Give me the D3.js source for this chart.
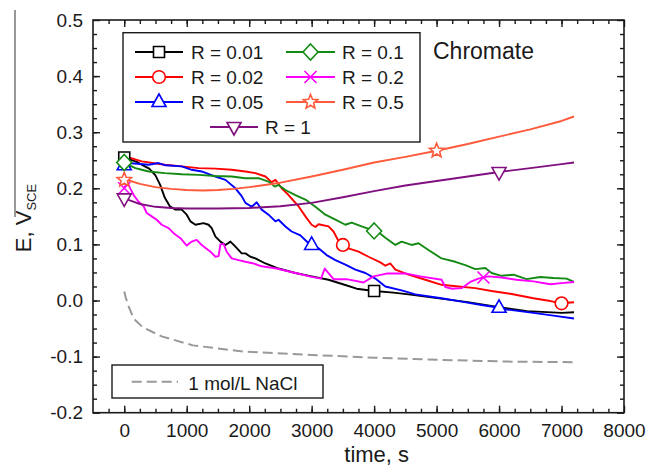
<!DOCTYPE html>
<html>
<head>
<meta charset="utf-8">
<script src="https://cdn.jsdelivr.net/npm/d3@7"></script>
<style>
  html, body { margin: 0; padding: 0; background: #fff; }
  svg text { font-family: Arial, "Liberation Sans", sans-serif; fill: #1a1a1a; }
</style>
</head>
<body>
<svg id="chart" width="651" height="467"></svg>
<script>
// ---- data: [time s, E V] ----
const r001 = [[0,0.255],[100,0.251],[200,0.247],[300,0.241],[400,0.235],[500,0.223],[575,0.206],[650,0.183],[730,0.168],[820,0.162],[920,0.162],[1000,0.153],[1060,0.141],[1140,0.135],[1270,0.138],[1350,0.135],[1400,0.129],[1460,0.114],[1540,0.105],[1620,0.099],[1700,0.105],[1780,0.096],[1880,0.084],[1940,0.084],[2020,0.078],[2100,0.075],[2260,0.066],[2470,0.057],[2740,0.049],[3000,0.043],[3270,0.037],[3500,0.029],[3720,0.021],[4000,0.017],[4310,0.014],[4550,0.011],[5100,0.003],[5500,-0.003],[6000,-0.012],[6450,-0.019],[7000,-0.022],[7200,-0.021]];
const r002 = [[0,0.257],[100,0.254],[280,0.248],[650,0.242],[920,0.239],[1190,0.236],[1460,0.235],[1720,0.233],[1940,0.230],[2100,0.227],[2260,0.221],[2360,0.211],[2420,0.215],[2520,0.200],[2630,0.188],[2790,0.168],[2900,0.150],[3000,0.135],[3060,0.131],[3110,0.136],[3270,0.132],[3350,0.123],[3430,0.106],[3500,0.099],[3590,0.093],[3750,0.087],[3910,0.078],[4100,0.068],[4180,0.062],[4260,0.066],[4340,0.055],[4550,0.046],[4820,0.037],[5080,0.028],[5350,0.025],[5620,0.022],[5880,0.017],[6180,0.012],[6550,0.004],[6820,-0.001],[7000,-0.005],[7200,-0.003]];
const r005 = [[0,0.241],[70,0.245],[390,0.242],[550,0.245],[660,0.241],[920,0.239],[1080,0.233],[1240,0.230],[1460,0.221],[1620,0.215],[1780,0.200],[1880,0.186],[1940,0.174],[2040,0.167],[2120,0.175],[2200,0.162],[2310,0.153],[2420,0.141],[2470,0.144],[2580,0.132],[2680,0.123],[2820,0.116],[2950,0.102],[3000,0.099],[3110,0.093],[3240,0.081],[3380,0.072],[3540,0.064],[3700,0.055],[3860,0.049],[4020,0.039],[4180,0.025],[4440,0.018],[4660,0.011],[5080,0.004],[5400,-0.002],[5720,-0.008],[6000,-0.013],[6120,-0.016],[6550,-0.022],[6870,-0.027],[7200,-0.032]];
const r01 = [[0,0.246],[100,0.240],[180,0.236],[280,0.233],[390,0.230],[650,0.227],[920,0.225],[1190,0.224],[1460,0.222],[1720,0.221],[1940,0.218],[2150,0.218],[2310,0.212],[2410,0.203],[2470,0.206],[2580,0.197],[2740,0.188],[2900,0.180],[3060,0.167],[3220,0.153],[3380,0.144],[3540,0.135],[3640,0.139],[3800,0.132],[3960,0.126],[4100,0.119],[4180,0.112],[4340,0.099],[4440,0.105],[4600,0.099],[4710,0.102],[4870,0.090],[5080,0.075],[5300,0.069],[5460,0.063],[5620,0.056],[5780,0.058],[5880,0.049],[6040,0.044],[6230,0.046],[6440,0.038],[6660,0.042],[6870,0.040],[7080,0.039],[7200,0.033]];
const r02 = [[0,0.200],[50,0.211],[100,0.199],[150,0.188],[230,0.176],[310,0.168],[360,0.156],[440,0.150],[520,0.144],[600,0.135],[710,0.129],[790,0.120],[900,0.111],[1000,0.098],[1080,0.105],[1160,0.108],[1240,0.099],[1380,0.087],[1460,0.078],[1510,0.079],[1540,0.100],[1590,0.101],[1640,0.087],[1720,0.075],[1830,0.072],[1940,0.069],[2070,0.066],[2200,0.061],[2440,0.057],[2740,0.049],[3000,0.042],[3150,0.039],[3210,0.057],[3260,0.050],[3350,0.038],[3560,0.038],[3830,0.032],[3990,0.043],[4200,0.048],[4520,0.048],[4740,0.043],[5080,0.037],[5140,0.024],[5250,0.021],[5400,0.022],[5540,0.033],[5670,0.039],[5830,0.043],[6040,0.041],[6280,0.037],[6550,0.034],[6820,0.029],[7000,0.031],[7200,0.033]];
const r05 = [[0,0.215],[100,0.213],[250,0.208],[500,0.202],[750,0.199],[1000,0.197],[1250,0.196],[1500,0.197],[1750,0.199],[2000,0.202],[2500,0.210],[3000,0.221],[3500,0.233],[4000,0.246],[4500,0.256],[5000,0.267],[5500,0.279],[6000,0.292],[6500,0.305],[7000,0.320],[7200,0.328]];
const r1 = [[0,0.182],[100,0.178],[250,0.172],[500,0.167],[750,0.165],[1000,0.164],[1500,0.164],[2000,0.165],[2500,0.168],[3000,0.174],[3500,0.184],[4000,0.195],[4500,0.205],[5000,0.213],[5500,0.221],[6000,0.229],[6500,0.236],[7000,0.243],[7200,0.246]];
const nacl = [[0,0.016],[25,0.005],[75,-0.012],[150,-0.032],[300,-0.048],[600,-0.064],[1100,-0.080],[1900,-0.091],[3000,-0.097],[4000,-0.102],[5100,-0.106],[6200,-0.109],[7200,-0.110]];

const seriesLabels = ['R = 0.01', 'R = 0.02', 'R = 0.05', 'R = 0.1', 'R = 0.2', 'R = 0.5', 'R = 1'];
const seriesData = [r001, r002, r005, r01, r02, r05, r1];
const markerTimes = [[0, 4000], [3500, 7000], [0, 3000, 6000], [0, 4000], [0, 5750], [0, 5000], [0, 6000]];
const xTicks = [0, 1000, 2000, 3000, 4000, 5000, 6000, 7000, 8000];
const yTicks = [-0.2, -0.1, 0.0, 0.1, 0.2, 0.3, 0.4, 0.5];

// styles
const colors = ['#000000', '#ff0000', '#0000ff', '#138a13', '#ff00ff', '#ff5a3c', '#80107f'];
const shapes = ['square', 'circle', 'triangle', 'diamond', 'cross', 'star', 'invtri'];

const svg = d3.select('#chart');
const x = d3.scaleLinear().domain([-500, 8000]).range([93, 624]);
const y = d3.scaleLinear().domain([-0.2, 0.5]).range([412.7, 20]);

// stray crop line at the left edge of the original figure
svg.append('line').attr('x1', 15).attr('x2', 15).attr('y1', 10).attr('y2', 217)
  .attr('stroke', '#333').attr('stroke-width', 1);

// marker path
function markerPath(shape) {
  const p = d3.path();
  if (shape === 'square') { p.rect(-5.5, -5.5, 11, 11); }
  else if (shape === 'circle') { p.arc(0, 0, 6.3, 0, 2 * Math.PI); p.closePath(); }
  else if (shape === 'triangle') { p.moveTo(0, -8); p.lineTo(7, 4.5); p.lineTo(-7, 4.5); p.closePath(); }
  else if (shape === 'invtri') { p.moveTo(0, 8); p.lineTo(7, -4.5); p.lineTo(-7, -4.5); p.closePath(); }
  else if (shape === 'diamond') { p.moveTo(0, -8); p.lineTo(7.5, 0); p.lineTo(0, 8); p.lineTo(-7.5, 0); p.closePath(); }
  else if (shape === 'cross') { p.moveTo(-6, -6); p.lineTo(6, 6); p.moveTo(-6, 6); p.lineTo(6, -6); }
  else if (shape === 'star') {
    for (let i = 0; i < 10; i++) {
      const r = i % 2 ? 3.3 : 7.5, a = -Math.PI / 2 + i * Math.PI / 5;
      i ? p.lineTo(r * Math.cos(a), r * Math.sin(a)) : p.moveTo(r * Math.cos(a), r * Math.sin(a));
    }
    p.closePath();
  }
  return p.toString();
}

function drawMarker(g, shape, cx, cy, color) {
  g.append('path')
    .attr('d', markerPath(shape))
    .attr('transform', `translate(${cx},${cy})`)
    .attr('fill', shape === 'cross' ? 'none' : '#fff')
    .attr('stroke', color)
    .attr('stroke-width', 1.6);
}

// value of a series at time t (linear between read points)
function valueAt(series, t) {
  const i = d3.bisector(d => d[0]).left(series, t);
  if (i <= 0) return series[0][1];
  if (i >= series.length) return series[series.length - 1][1];
  const [t0, v0] = series[i - 1], [t1, v1] = series[i];
  return v0 + (v1 - v0) * (t - t0) / (t1 - t0);
}

// ---- axes (ticks inward on all four sides) ----
const fs = '19px';
function styleAxis(g) {
  g.select('.domain').remove();
  g.selectAll('line').attr('stroke', '#1a1a1a').attr('stroke-width', 1.4);
  g.selectAll('text').attr('font-size', fs).attr('font-family', 'Arial, "Liberation Sans", sans-serif').attr('fill', '#1a1a1a');
}
const xMinor = d3.range(-250, 8000, 250);
const yMinor = d3.range(-0.175, 0.5, 0.025);

svg.append('g').attr('transform', 'translate(0,412.7)')
  .call(d3.axisBottom(x).tickValues(xTicks).tickSize(-7).tickPadding(11).tickFormat(d3.format('d'))).call(styleAxis);
svg.append('g').attr('transform', 'translate(0,412.7)')
  .call(d3.axisBottom(x).tickValues(xMinor).tickSize(-4).tickFormat('')).call(styleAxis);
svg.append('g').attr('transform', 'translate(0,20)')
  .call(d3.axisTop(x).tickValues(xTicks).tickSize(-7).tickFormat('')).call(styleAxis);
svg.append('g').attr('transform', 'translate(0,20)')
  .call(d3.axisTop(x).tickValues(xMinor).tickSize(-4).tickFormat('')).call(styleAxis);
svg.append('g').attr('transform', 'translate(93,0)')
  .call(d3.axisLeft(y).tickValues(yTicks).tickSize(-7).tickPadding(10).tickFormat(d3.format('.1f'))).call(styleAxis);
svg.append('g').attr('transform', 'translate(93,0)')
  .call(d3.axisLeft(y).tickValues(yMinor).tickSize(-4).tickFormat('')).call(styleAxis);
svg.append('g').attr('transform', 'translate(624,0)')
  .call(d3.axisRight(y).tickValues(yTicks).tickSize(-7).tickFormat('')).call(styleAxis);
svg.append('g').attr('transform', 'translate(624,0)')
  .call(d3.axisRight(y).tickValues(yMinor).tickSize(-4).tickFormat('')).call(styleAxis);

// minus sign as hyphen like the original
svg.selectAll('text').filter(function () { return this.textContent.includes('−'); })
  .text(function () { return this.textContent.replace('−', '-'); });

svg.append('rect').attr('x', 93).attr('y', 20).attr('width', 531).attr('height', 392.7)
  .attr('fill', 'none').attr('stroke', '#1a1a1a').attr('stroke-width', 1.6);

// ---- lines ----
const line = d3.line().x(d => x(d[0])).y(d => y(d[1]));
const plot = svg.append('g');

plot.append('path').datum(nacl).attr('d', line)
  .attr('fill', 'none').attr('stroke', '#999').attr('stroke-width', 2).attr('stroke-dasharray', '10,5');

seriesData.forEach((s, i) => {
  plot.append('path').datum(s).attr('d', line)
    .attr('fill', 'none').attr('stroke', colors[i]).attr('stroke-width', 1.9).attr('stroke-linejoin', 'round');
});
seriesData.forEach((s, i) => {
  markerTimes[i].forEach(t => drawMarker(plot, shapes[i], x(t), y(valueAt(s, t)), colors[i]));
});

// ---- legend ----
const leg = svg.append('g');
leg.append('rect').attr('x', 123).attr('y', 32.7).attr('width', 297).attr('height', 109.3)
  .attr('fill', '#fff').attr('stroke', '#1a1a1a').attr('stroke-width', 1.4);
const legPos = [[0, 0], [0, 1], [0, 2], [1, 0], [1, 1], [1, 2], [2, 3]];
const colX = [[135, 183, 191], [286, 335, 342], [210, 258, 265]];
legPos.forEach(([c, r], i) => {
  const [x0, x1, tx] = colX[c];
  const cy = 52 + r * 25;
  leg.append('line').attr('x1', x0).attr('x2', x1).attr('y1', cy).attr('y2', cy)
    .attr('stroke', colors[i]).attr('stroke-width', 1.9);
  drawMarker(leg, shapes[i], (x0 + x1) / 2, cy, colors[i]);
  leg.append('text').attr('x', tx).attr('y', cy + 6.6).attr('font-size', '19px').text(seriesLabels[i]);
});

svg.append('text').attr('x', 433).attr('y', 59.3).attr('font-size', '23px').text('Chromate');

// NaCl legend
svg.append('rect').attr('x', 112).attr('y', 365).attr('width', 211).attr('height', 33)
  .attr('fill', '#fff').attr('stroke', '#1a1a1a').attr('stroke-width', 1.4);
svg.append('line').attr('x1', 131.7).attr('x2', 178).attr('y1', 381.7).attr('y2', 381.7)
  .attr('stroke', '#999').attr('stroke-width', 2).attr('stroke-dasharray', '10,5');
svg.append('text').attr('x', 188.3).attr('y', 390).attr('font-size', '19px').text('1 mol/L NaCl');

// axis titles
svg.append('text').attr('x', 376.7).attr('y', 461.7).attr('text-anchor', 'middle')
  .attr('font-size', '22px').text('time, s');
const yl = svg.append('text').attr('transform', 'translate(30.7,218) rotate(-90)')
  .attr('text-anchor', 'middle').attr('font-size', '22px');
yl.append('tspan').text('E, V');
yl.append('tspan').attr('font-size', '13px').attr('dy', 5).text('SCE');
</script>
</body>
</html>
